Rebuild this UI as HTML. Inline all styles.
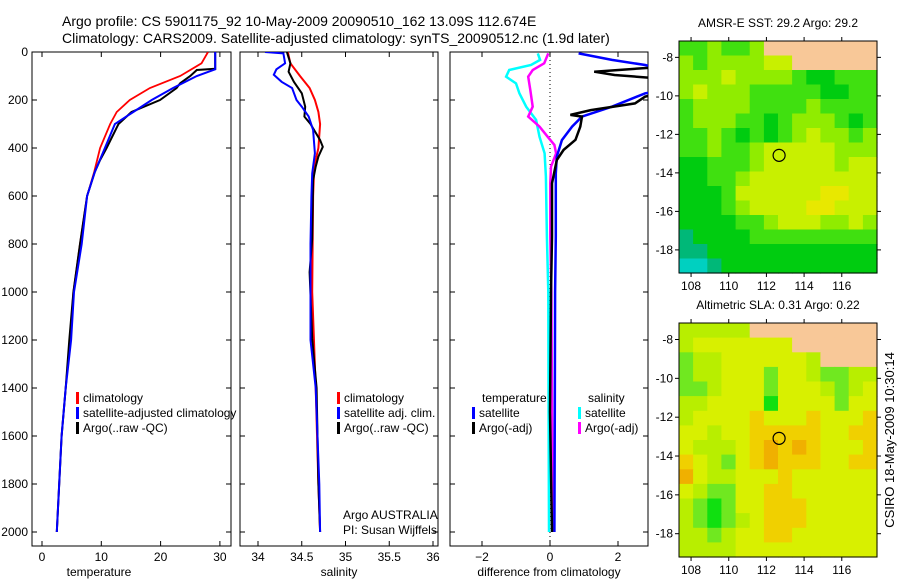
<!DOCTYPE html>
<html><head><meta charset="utf-8">
<style>
html,body{margin:0;padding:0;background:#fff;}
svg{display:block;font-family:"Liberation Sans",sans-serif;}
</style></head>
<body>
<svg id="chart" width="900" height="580" viewBox="0 0 900 580" xmlns="http://www.w3.org/2000/svg">
<rect width="900" height="580" fill="#fff"/>
<text x="62" y="26" font-size="14">Argo profile: CS 5901175_92 10-May-2009 20090510_162 13.09S 112.674E</text>
<text x="62" y="43" font-size="14">Climatology: CARS2009. Satellite-adjusted climatology: synTS_20090512.nc (1.9d later)</text>
<g id="g"></g>
</svg>
<script>
// ---- profile data ----
const tempClimDepth = [0,47,100,150,200,250,300,400,500,600,800,1000,1200,1400,1600,1800,2000];
const tempClim      = [28.0,26.9,23.3,18.2,14.8,12.6,11.5,9.8,8.8,7.6,6.4,5.3,4.7,4.0,3.3,2.9,2.5];
const tempSatDepth  = [0,72,100,150,200,250,300,400,500,600,800,1000,1200,1400,1600,1800,2000];
const tempSat       = [29.2,29.2,26.1,22.1,18.5,15.4,12.3,10.6,8.9,7.6,6.7,5.4,4.9,4.0,3.3,2.9,2.5];
const tempArgoDepth = [0,70,75,100,130,150,200,250,300,400,450,500,600,800,1000,1200,1400,1600,1800,2000];
const tempArgo      = [29.2,29.2,26.1,25.0,23.3,22.7,19.9,15.1,12.9,10.9,9.8,8.9,7.6,6.4,5.3,4.6,4.0,3.3,2.9,2.5];

const salClimDepth = [0,47,100,150,200,250,300,400,450,500,600,1000,1400,1800,2000];
const salClim      = [34.34,34.37,34.48,34.59,34.65,34.69,34.71,34.69,34.66,34.64,34.63,34.62,34.66,34.69,34.71];
const salSatDepth  = [0,6,47,72,95,124,150,200,228,269,325,422,506,603,800,1000,1200,1400,1600,1800,2000];
const salSat       = [34.08,34.29,34.31,34.21,34.18,34.27,34.39,34.44,34.50,34.58,34.63,34.65,34.62,34.61,34.60,34.60,34.60,34.66,34.68,34.70,34.71];
const salArgoDepth = [0,47,82,124,172,228,269,300,367,395,436,478,534,779,917,1194,1400,1600,1800,2000];
const salArgo      = [34.33,34.37,34.35,34.41,34.50,34.54,34.53,34.60,34.71,34.74,34.69,34.66,34.63,34.62,34.59,34.62,34.67,34.68,34.69,34.71];

const dSalSatDepth = [6,33,54,75,103,131,172,228,283,353,422,519,769,1000,1500,2000];
const dSalSat      = [-0.36,-0.29,-0.56,-1.2,-1.29,-1.0,-0.90,-0.70,-0.41,-0.31,-0.16,-0.12,-0.09,-0.05,-0.04,-0.03];
const dSalArgoDepth= [6,47,75,103,158,228,269,311,353,387,422,478,547,769,1000,1500,2000];
const dSalArgo     = [-0.05,-0.17,-0.51,-0.64,-0.58,-0.51,-0.64,-0.31,-0.07,0.13,0.18,0.03,0.01,0.01,0.04,0.06,0.08];
const dTempSatDepth= [6,33,54,100,150,172,228,269,311,367,436,506,769,1000,1500,2000];
const dTempSat     = [0.84,1.82,2.8,4.0,4.0,2.8,1.82,0.94,0.65,0.35,0.20,0.17,0.17,0.15,0.14,0.13];
const dTempArgoDepth=[6,60,82,96,110,150,186,214,242,262,269,311,366,408,450,547,769,1000,1500,2000];
const dTempArgo    = [4.0,3.5,1.3,1.9,3.2,4.0,2.8,2.5,1.2,0.6,0.94,0.89,0.75,0.40,0.20,0.06,0.06,0.03,0.0,0.06];

const depthTicks = [0,200,400,600,800,1000,1200,1400,1600,1800,2000];
const tempTicks = [0,10,20,30];
const salTicks = [34,34.5,35,35.5,36];
const salTickLabels = ["34","34.5","35","35.5","36"];
const diffTicks = [-2,0,2];

// ---- map data (codes; -1 = land) ----
const sstGrid = [
[3,3,4,3,3,4,-1,-1,-1,-1,-1,-1,-1,-1],
[4,3,4,4,4,4,5,5,-1,-1,-1,-1,-1,-1],
[4,4,4,5,4,4,4,4,3,2,2,3,3,3],
[4,5,4,4,4,3,3,3,3,3,2,2,3,3],
[3,4,4,4,4,3,3,3,3,4,3,3,3,3],
[3,4,4,4,3,3,2,3,4,4,4,3,2,3],
[3,3,4,3,2,3,2,3,4,5,4,4,3,4],
[3,3,4,3,3,4,5,5,5,5,5,4,4,4],
[2,2,3,3,3,4,5,5,5,5,5,4,5,5],
[2,2,3,3,4,5,5,5,5,5,5,5,5,5],
[2,2,2,3,5,5,5,5,5,5,6,6,5,5],
[2,2,2,3,4,5,5,5,5,6,6,5,5,5],
[2,2,2,2,3,3,4,5,5,5,4,4,5,4],
[1,2,2,2,2,3,3,3,3,3,3,3,3,3],
[1,1,2,2,2,2,2,2,2,2,2,2,2,2],
[0,0,1,2,2,2,2,2,2,2,2,2,2,2]];
const slaGrid = [
[5,5,5,5,5,-1,-1,-1,-1,-1,-1,-1,-1,-1],
[5,6,6,6,6,6,6,6,-1,-1,-1,-1,-1,-1],
[4,5,5,6,6,6,6,6,6,5,-1,-1,-1,-1],
[4,5,5,6,6,6,4,6,6,5,4,4,5,5],
[4,4,5,6,6,6,4,6,6,6,5,4,5,6],
[5,5,6,6,6,6,3,6,6,6,6,4,6,6],
[5,6,6,6,6,7,6,6,6,7,6,6,6,7],
[6,6,5,6,6,7,7,7,7,7,6,6,7,7],
[6,5,5,5,6,7,8,7,8,7,6,6,6,7],
[7,6,5,4,6,7,8,7,7,7,6,6,7,7],
[8,6,5,5,6,6,6,7,6,6,6,6,6,6],
[6,5,4,4,6,6,7,7,6,6,6,6,6,6],
[5,4,3,4,6,6,7,7,7,6,6,6,6,6],
[5,4,3,4,5,6,7,7,7,6,6,6,6,6],
[5,5,4,5,6,6,7,7,6,6,6,6,6,6],
[5,5,5,5,6,6,6,6,6,6,6,6,6,6]];
const lonTicks = [108,110,112,114,116];
const latTicks = [-8,-10,-12,-14,-16,-18];
const argoLon = 112.674, argoLat = -13.09;

const NS="http://www.w3.org/2000/svg";
const G=document.getElementById('g');
function el(tag,attrs,parent){const e=document.createElementNS(NS,tag);for(const k in attrs)e.setAttribute(k,attrs[k]);(parent||G).appendChild(e);return e;}
function txt(x,y,s,size,anchor,parent){const t=el('text',{x:x,y:y,'font-size':size,'text-anchor':anchor||'start'},parent);t.textContent=s;return t;}

const Y0=52, Y1=546;
const yD = d => 52 + d*0.24;
const panels = [
 {name:'temperature-panel', x0:32,x1:231, sx:v=>42+v*5.93, ticks:tempTicks, labels:tempTicks.map(String), xl:'temperature', lx:99},
 {name:'salinity-panel', x0:240,x1:438, sx:v=>258+(v-34)*87.5, ticks:salTicks, labels:salTickLabels, xl:'salinity', lx:339},
 {name:'difference-panel', x0:450,x1:648, sx:v=>550+v*34, ticks:diffTicks, labels:diffTicks.map(v=>v<0?'\u2212'+(-v):String(v)), xl:'difference from climatology', lx:549},
];
panels.forEach((p,i)=>{
  const g=el('g',{});
  
  
  const fr=el('rect',{x:p.x0,y:Y0,width:p.x1-p.x0,height:Y1-Y0,fill:'none',stroke:'#000','stroke-width':1},g);
  
  
  depthTicks.forEach(d=>{
    el('line',{x1:p.x0,x2:p.x0+5,y1:yD(d),y2:yD(d),stroke:'#000'},g);
    el('line',{x1:p.x1-5,x2:p.x1,y1:yD(d),y2:yD(d),stroke:'#000'},g);
    if(i===0){const t=txt(p.x0-4,yD(d)+4,String(d),12,'end',g);
      
      }
  });
  p.ticks.forEach((v,k)=>{
    const x=p.sx(v);
    el('line',{x1:x,x2:x,y1:Y0,y2:Y0+5,stroke:'#000'},g);
    el('line',{x1:x,x2:x,y1:Y1-5,y2:Y1,stroke:'#000'},g);
    const t=txt(x,Y1+15,p.labels[k],12,'middle',g);
    
    
  });
  const xt=txt(p.lx,Y1+30,p.xl,12,'middle',g);
  
  
});

function clipRect(id,p){const cp=el('clipPath',{id:id});el('rect',{x:p.x0,y:Y0,width:p.x1-p.x0,height:Y1-Y0},cp);}
panels.forEach((p,i)=>clipRect('cp'+i,p));

function line(p,i,depths,vals,color,name,w){
  const pts=depths.map((d,k)=>p.sx(vals[k]).toFixed(1)+','+yD(d).toFixed(1)).join(' ');
  const l=el('polyline',{points:pts,fill:'none',stroke:color,'stroke-width':w||2,'clip-path':'url(#cp'+i+')'});
  
  
}
line(panels[0],0,tempClimDepth,tempClim,'#f00','temp-climatology-line',1.8);
line(panels[0],0,tempArgoDepth,tempArgo,'#000','temp-argo-line',2);
line(panels[0],0,tempSatDepth,tempSat,'#00f','temp-satellite-line',2);
line(panels[1],1,salClimDepth,salClim,'#f00','sal-climatology-line',2);
line(panels[1],1,salArgoDepth,salArgo,'#000','sal-argo-line',2);
line(panels[1],1,salSatDepth,salSat,'#00f','sal-satellite-line',2);
// zero dotted line
const zl=el('line',{x1:panels[2].sx(0),x2:panels[2].sx(0),y1:Y0,y2:Y1,stroke:'#000','stroke-dasharray':'1,3'});


line(panels[2],2,dSalSatDepth,dSalSat,'#0ff','diff-sal-satellite-line',2.5);
line(panels[2],2,dSalArgoDepth,dSalArgo,'#f0f','diff-sal-argo-line',2.5);
line(panels[2],2,dTempSatDepth,dTempSat,'#00f','diff-temp-satellite-line',2.5);
line(panels[2],2,dTempArgoDepth,dTempArgo,'#000','diff-temp-argo-line',2.5);

function legend(x,y,color,label,name){
  const g=el('g',{});
  
  
  if(color) el('rect',{x:x,y:y-10,width:3,height:12,fill:color},g);
  txt(x+(color?7:0),y,label,12,'start',g);
}
legend(76,402,'#f00','climatology','legend-temp-climatology');
legend(76,417,'#00f','satellite-adjusted climatology','legend-temp-satellite');
legend(76,432,'#000','Argo(..raw -QC)','legend-temp-argo');
legend(337,402,'#f00','climatology','legend-sal-climatology');
legend(337,417,'#00f','satellite adj. clim.','legend-sal-satellite');
legend(337,432,'#000','Argo(..raw -QC)','legend-sal-argo');
legend(482,402,null,'temperature','legend-temperature-heading');
legend(472,417,'#00f','satellite','legend-diff-temp-satellite');
legend(472,432,'#000','Argo(-adj)','legend-diff-temp-argo');
legend(588,402,null,'salinity','legend-salinity-heading');
legend(578,417,'#0ff','satellite','legend-diff-sal-satellite');
legend(578,432,'#f0f','Argo(-adj)','legend-diff-sal-argo');
txt(343,519,'Argo AUSTRALIA',12);
txt(343,534,'PI: Susan Wijffels',12);

// ---- maps ----
const sstPal=['#00d0c0','#00b878','#00cc10','#40e010','#90ec00','#c8f000','#e8e800','#f0c800','#f0a000'];
const slaPal=['#00d0c0','#00b878','#00cc10','#10e010','#70e820','#b8ee00','#d8f000','#f0d000','#f0b000'];
const LAND='#f8c898';
function map(name,grid,pal,top,bottom,title){
  const X0=679,X1=877, lon0=107.36, lon1=117.87;
  const lat0=-7.15, lat1=-19.2;
  const sx=lo=>X0+(lo-lon0)/(lon1-lon0)*(X1-X0);
  const sy=la=>top+(la-lat0)/(lat1-lat0)*(bottom-top);
  const g=el('g',{});
  
  
  const rows=grid.length, cols=grid[0].length;
  const dlon=(lon1-lon0)/cols, dlat=(lat1-lat0)/rows;
  grid.forEach((row,r)=>row.forEach((v,c)=>{
    const xa=sx(lon0+c*dlon), xb=sx(lon0+(c+1)*dlon), ya=sy(lat0+r*dlat), yb=sy(lat0+(r+1)*dlat);
    const cell=el('rect',{x:xa.toFixed(1),y:ya.toFixed(1),width:(xb-xa+0.6).toFixed(1),height:(yb-ya+0.6).toFixed(1),fill:v<0?LAND:pal[v]},g);
    
    
  }));
  el('rect',{x:X0,y:top,width:X1-X0,height:bottom-top,fill:'none',stroke:'#000'},g);
  lonTicks.forEach(lo=>{const x=sx(lo);
    el('line',{x1:x,x2:x,y1:top-4,y2:top,stroke:'#000'},g);
    el('line',{x1:x,x2:x,y1:bottom,y2:bottom+4,stroke:'#000'},g);
    const t=txt(x,bottom+17,String(lo),12,'middle',g);
    
  });
  latTicks.forEach(la=>{const y=sy(la);
    el('line',{x1:X0-4,x2:X0,y1:y,y2:y,stroke:'#000'},g);
    el('line',{x1:X1,x2:X1+4,y1:y,y2:y,stroke:'#000'},g);
    const t=txt(X0-6,y+4,String(la).replace('-','-'),12,'end',g);
    
  });
  const c=el('circle',{cx:sx(argoLon),cy:sy(argoLat),r:6,fill:'none',stroke:'#000','stroke-width':1.2},g);
  
  
  const t=txt(778,top-14,title,12,'middle',g);
  
}
map('sst-map',sstGrid,sstPal,41,273,'AMSR-E SST: 29.2 Argo: 29.2');
map('sla-map',slaGrid,slaPal,323,557,'Altimetric SLA: 0.31 Argo: 0.22');
const st=txt(0,0,'CSIRO 18-May-2009 10:30:14',13,'middle');
st.setAttribute('transform','translate(894,440) rotate(-90)');


</script>
</body></html>
